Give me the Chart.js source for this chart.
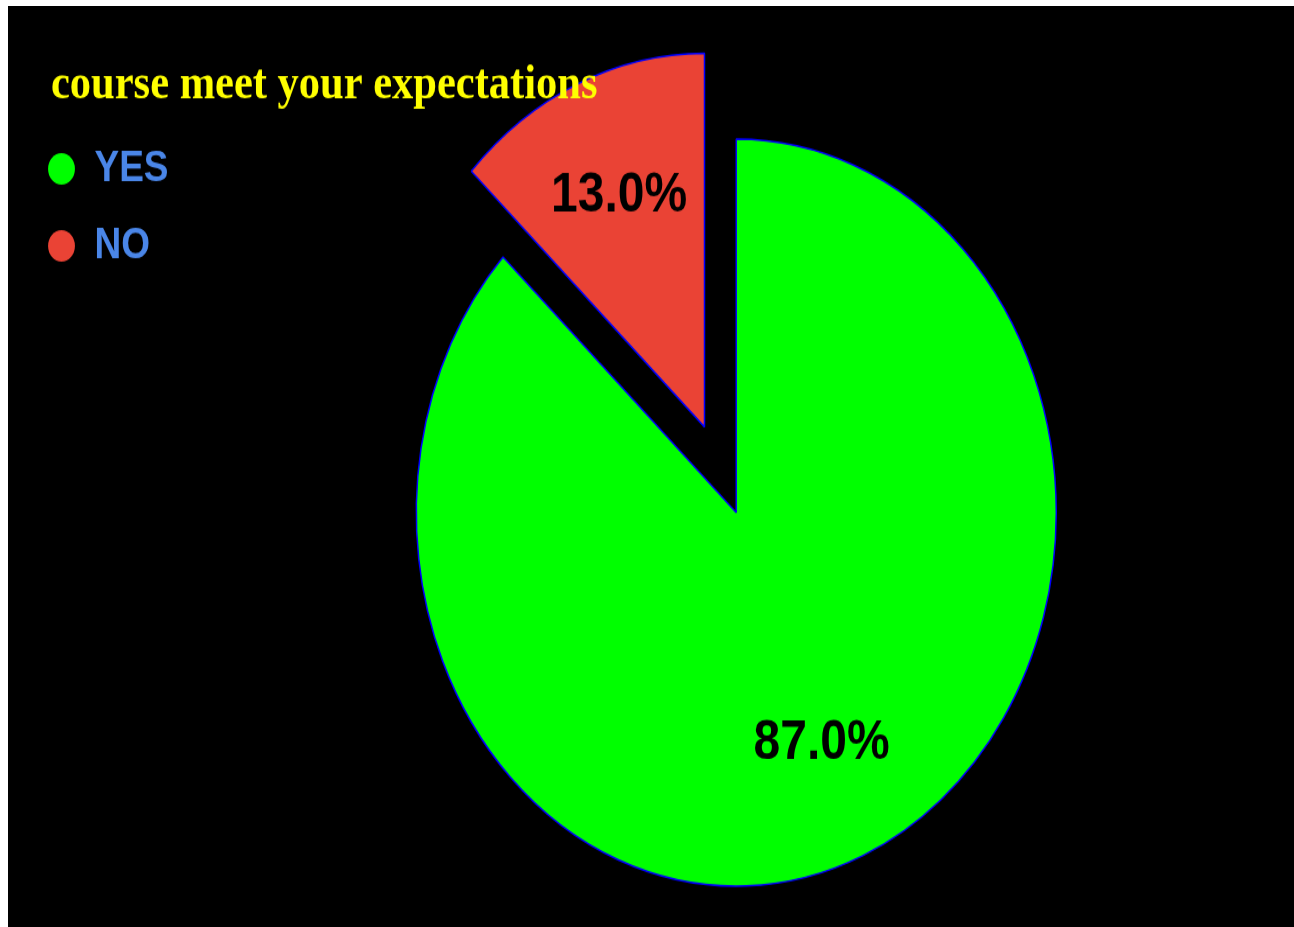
<!DOCTYPE html>
<html>
<head>
<meta charset="utf-8">
<title>course meet your expectations</title>
<script src="https://cdn.jsdelivr.net/npm/chart.js@4.4.0/dist/chart.umd.min.js"></script>
<style>
  html, body { margin: 0; padding: 0; background: #fff; }
  #frame {
    position: absolute; left: 8px; top: 6px;
    width: 1286px; height: 921px;
    background: #000; overflow: hidden;
  }
  /* the original picture is stretched vertically */
  #chart { display: block; transform-origin: 0 0; transform: scaleY(1.1673); }
</style>
</head>
<body>
<div id="frame"><canvas id="chart" width="1286" height="789"></canvas></div>
<script>
const chartTitle = "course meet your expectations";
const categories = ["YES", "NO"];
const values = [87, 13];

const sliceColors = ["#00ff00", "#ea4335"];
const explodeBy = [0, 80]; // px the slice is pulled out from the centre
const labelRadius = 0.672;  // where the percentage sits, fraction of radius

// Pull slices out along their middle angle
const explodePlugin = {
  id: "explode",
  afterDatasetsUpdate(chart) {
    const meta = chart.getDatasetMeta(0);
    meta.data.forEach((arc, i) => {
      const d = explodeBy[i] || 0;
      if (!d) return;
      const mid = (arc.startAngle + arc.endAngle) / 2;
      arc.x += Math.cos(mid) * d;
      arc.y += Math.sin(mid) * d;
    });
  },
};

// Percentage text inside each slice
const percentPlugin = {
  id: "percentLabels",
  afterDatasetsDraw(chart) {
    const ctx = chart.ctx;
    const meta = chart.getDatasetMeta(0);
    const total = values.reduce((a, b) => a + b, 0);
    ctx.save();
    ctx.font = 'bold 48px "Liberation Sans", Arial, sans-serif';
    ctx.fillStyle = "#000";
    ctx.textAlign = "center";
    ctx.textBaseline = "middle";
    meta.data.forEach((arc, i) => {
      const mid = (arc.startAngle + arc.endAngle) / 2;
      const r = arc.outerRadius * labelRadius;
      const text = ((values[i] / total) * 100).toFixed(1) + "%";
      ctx.fillText(text, arc.x + Math.cos(mid) * r, arc.y + Math.sin(mid) * r);
    });
    ctx.restore();
  },
};

// Title sits top-left, drawn over the pie
const headingPlugin = {
  id: "heading",
  afterDraw(chart) {
    const ctx = chart.ctx;
    ctx.save();
    ctx.font = 'bold 42.5px "Liberation Serif", "Times New Roman", serif';
    ctx.fillStyle = "#ffff00";
    ctx.textAlign = "left";
    ctx.textBaseline = "alphabetic";
    ctx.fillText(chartTitle, 43, 79);
    ctx.restore();
  },
};

const ctx = document.getElementById("chart").getContext("2d");

new Chart(ctx, {
  type: "pie",
  data: {
    labels: categories,
    datasets: [
      {
        data: values,
        backgroundColor: sliceColors,
        borderColor: "#0000ff",
        borderWidth: 1.5,
      },
    ],
  },
  options: {
    responsive: false,
    animation: false,
    events: [],
    radius: 320,
    layout: {
      padding: { left: 10, top: 92, right: -10, bottom: 13 },
    },
    plugins: {
      tooltip: { enabled: false },
      legend: {
        position: "left",
        align: "start",
        labels: {
          usePointStyle: true,
          pointStyle: "circle",
          boxWidth: 29,
          boxHeight: 19,
          padding: 29,
          color: "#4a86e8",
          font: { family: '"Liberation Sans", Arial, sans-serif', size: 37, weight: "bold" },
          generateLabels(chart) {
            const items = Chart.overrides.pie.plugins.legend.labels.generateLabels(chart);
            items.forEach((item) => {
              item.lineWidth = 0;
            });
            return items;
          },
        },
      },
    },
  },
  plugins: [explodePlugin, percentPlugin, headingPlugin],
});
</script>
</body>
</html>
